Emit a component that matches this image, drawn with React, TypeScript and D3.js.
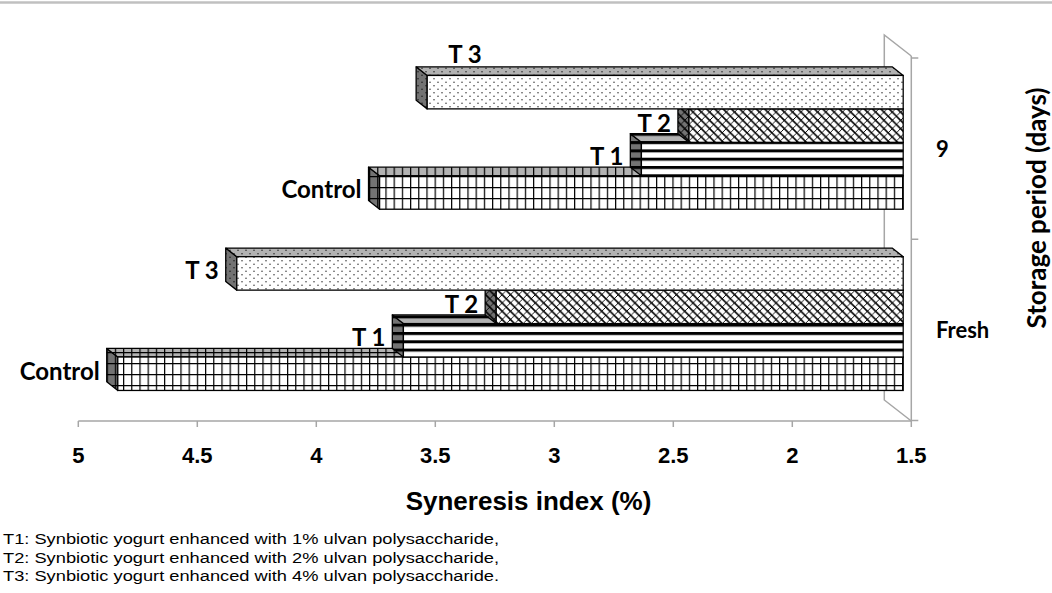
import * as d3 from 'd3'

const categories = ['Fresh', '9']
const seriesNames = ['Control', 'T 1', 'T 2', 'T 3']
const freshValues = [4.8, 3.6, 3.21, 4.3]
const day9Values = [3.7, 2.6, 2.4, 3.5]
const xTicks = [5, 4.5, 4, 3.5, 3, 2.5, 2, 1.5]
const footnotes = [
  'T1: Synbiotic yogurt enhanced with 1% ulvan polysaccharide,',
  'T2: Synbiotic yogurt enhanced with 2% ulvan polysaccharide,',
  'T3: Synbiotic yogurt enhanced with 4% ulvan polysaccharide.',
]
const patternIds = ['pat-grid', 'pat-stripes', 'pat-lattice', 'pat-dots']

const W = 1052
const H = 593
// full depth of the 3D box (back wall offset) and where bars sit inside it
const DX = -27
const DY = -21
const F0 = 0.3
const F1 = 0.71
const AXIS_GRAY = '#a6a6a6'
const LABEL_FONT = 'Lato, "Open Sans", sans-serif'
const ARIAL = '"Liberation Sans", Arial, sans-serif'

const pts = (p: number[][]) => p.map((d) => d.join(',')).join(' ')

export default function App() {
  const valuesByCategory: Record<string, number[]> = {
    Fresh: freshValues,
    '9': day9Values,
  }

  const x = d3.scaleLinear().domain([5, 1.5]).range([78.3, 911.3])
  const y0 = d3.scaleBand<string>().domain(categories).range([420.5, 58])
  const y1 = d3
    .scaleBand<string>()
    .domain(seriesNames)
    .range([y0.bandwidth(), 0])
    .paddingOuter(0.71)

  const base = x(1.5)
  const ox0 = DX * F0
  const oy0 = DY * F0
  const ox1 = DX * F1
  const oy1 = DY * F1
  const h = y1.bandwidth()

  const floorY = 421
  const axisTop = 56

  const bars = categories.flatMap((cat, ci) =>
    seriesNames.map((s, i) => {
      const v = valuesByCategory[cat][i]
      const left = x(v)
      const yTop = (y0(cat) as number) + (y1(s) as number)
      // Excel lifted the label of the very top bar above its top face
      const above = ci === categories.length - 1 && i === seriesNames.length - 1
      return { cat, s, i, v, left, yTop, above }
    })
  )

  return (
    <svg
      width={W}
      height={H}
      style={{ position: 'absolute', left: 0, top: 0, background: '#fff' }}
    >
      <defs>
        <pattern id="pat-grid" width={8.2} height={11} patternUnits="userSpaceOnUse">
          <rect width={8.2} height={11} fill="#fff" />
          <path d="M0.6,0 V11 M0,0.6 H8.2" stroke="#000" strokeWidth={1.2} />
        </pattern>
        <pattern id="pat-stripes" width={8} height={8.3} patternUnits="userSpaceOnUse">
          <rect width={8} height={8.3} fill="#fff" />
          <rect y={0} width={8} height={3} fill="#000" />
        </pattern>
        <pattern id="pat-lattice" width={8.3} height={8.3} patternUnits="userSpaceOnUse">
          <rect width={8.3} height={8.3} fill="#fff" />
          <path d="M-1,-1 L9.3,9.3" stroke="#000" strokeWidth={1.6} />
          <path d="M9.3,-1 L-1,9.3" stroke="#000" strokeWidth={0.9} />
        </pattern>
        <pattern id="pat-dots" width={8} height={7} patternUnits="userSpaceOnUse">
          <rect width={8} height={7} fill="#fff" />
          <circle cx={2} cy={1.75} r={0.75} fill="#333" />
          <circle cx={6} cy={5.25} r={0.75} fill="#333" />
        </pattern>
      </defs>

      {/* top border */}
      <line x1={0} x2={W} y1={2.5} y2={2.5} stroke="#c0c0c0" strokeWidth={2.5} />

      {/* back wall and category axis */}
      <g stroke={AXIS_GRAY} strokeWidth={1.5} fill="none">
        <polyline
          points={pts([
            [base, axisTop],
            [base + DX, axisTop + DY],
            [base + DX, floorY + DY],
            [base, floorY],
          ])}
        />
        <line x1={base} x2={base} y1={axisTop} y2={floorY} />
        {[58, 239.25, 420.5].map((t) => (
          <line key={t} x1={base} x2={base + 7} y1={t} y2={t} />
        ))}
        <line x1={x(5)} x2={base} y1={floorY} y2={floorY} />
        {xTicks.map((t) => (
          <line key={t} x1={x(t)} x2={x(t)} y1={floorY} y2={floorY + 6} />
        ))}
      </g>

      {/* 3D bars, lower bars first so upper ones cover their top faces */}
      {bars.map((b) => {
        const fill = `url(#${patternIds[b.i]})`
        const top = [
          [b.left + ox0, b.yTop + oy0],
          [base + ox0, b.yTop + oy0],
          [base + ox1, b.yTop + oy1],
          [b.left + ox1, b.yTop + oy1],
        ]
        const end = [
          [b.left + ox0, b.yTop + oy0],
          [b.left + ox1, b.yTop + oy1],
          [b.left + ox1, b.yTop + h + oy1],
          [b.left + ox0, b.yTop + h + oy0],
        ]
        return (
          <g key={`${b.cat}-${b.s}`}>
            <polygon points={pts(end)} fill={fill} />
            <polygon points={pts(end)} fill="#000" fillOpacity={0.55} stroke="#000" strokeWidth={1.3} strokeLinejoin="round" />
            <polygon points={pts(top)} fill={fill} />
            <polygon points={pts(top)} fill="#000" fillOpacity={0.3} stroke="#000" strokeWidth={1.3} strokeLinejoin="round" />
            <rect
              x={b.left + ox0}
              y={b.yTop + oy0}
              width={base - b.left}
              height={h}
              fill={fill}
              stroke="#000"
              strokeWidth={1.3}
            />
          </g>
        )
      })}

      {/* bar labels */}
      {bars.map((b) => (
        <text
          key={`lab-${b.cat}-${b.s}`}
          x={b.above ? b.left + ox1 + 32 : b.left + ox1 - 7}
          y={b.above ? b.yTop + oy1 - 4 : b.yTop + oy0 + h / 2 + 6}
          textAnchor={b.above ? 'start' : 'end'}
          fontFamily={LABEL_FONT}
          fontWeight="bold"
          fontSize={24}
          fill="#000"
        >
          {b.s}
        </text>
      ))}

      {/* category labels */}
      {categories.map((c) => (
        <text
          key={c}
          x={936}
          y={(y0(c) as number) + y0.bandwidth() / 2 + 8.5}
          fontFamily={LABEL_FONT}
          fontWeight="bold"
          fontSize={22}
          fill="#000"
        >
          {c}
        </text>
      ))}
      <text
        transform="translate(1046,208) rotate(-90)"
        textAnchor="middle"
        fontFamily={LABEL_FONT}
        fontWeight="bold"
        fontSize={26}
        fill="#000"
      >
        Storage period (days)
      </text>

      {/* value axis labels */}
      {xTicks.map((t) => (
        <text
          key={`t-${t}`}
          x={x(t)}
          y={463}
          textAnchor="middle"
          fontFamily={ARIAL}
          fontWeight="bold"
          fontSize={22}
          fill="#000"
        >
          {t}
        </text>
      ))}
      <text
        x={528.5}
        y={510}
        textAnchor="middle"
        fontFamily={ARIAL}
        fontWeight="bold"
        fontSize={26}
        fill="#000"
      >
        Syneresis index (%)
      </text>

      {/* footnotes */}
      {footnotes.map((f, i) => (
        <text
          key={f}
          x={3}
          y={544 + i * 18.5}
          fontFamily={ARIAL}
          fontSize={15.5}
          textLength={496}
          lengthAdjust="spacingAndGlyphs"
          fill="#000"
        >
          {f}
        </text>
      ))}
    </svg>
  )
}
